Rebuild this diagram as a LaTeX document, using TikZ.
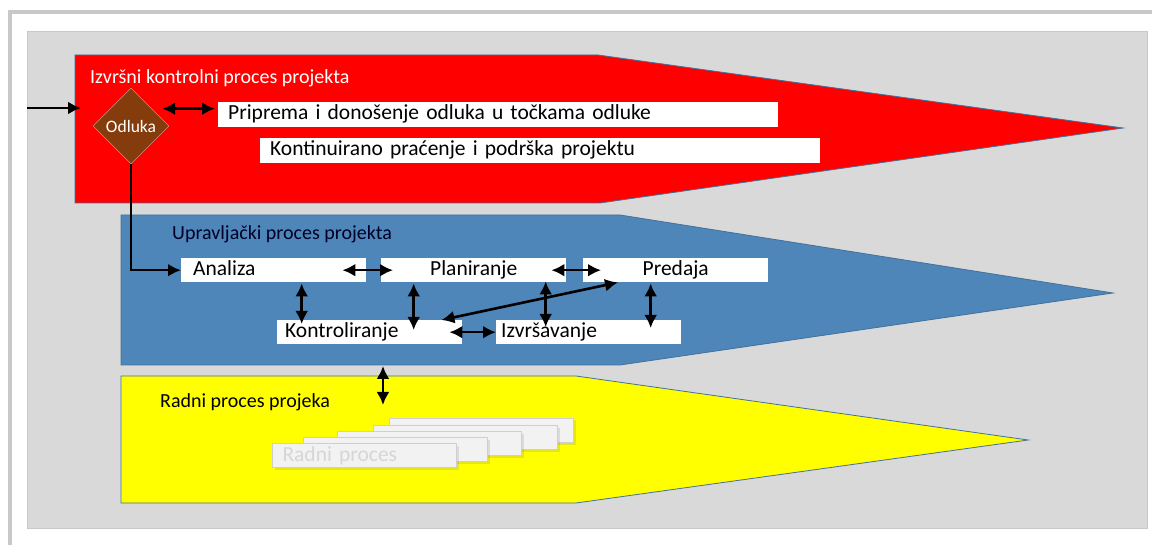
\documentclass[tikz,border=0pt]{standalone}
\usepackage{fontspec}
\setmainfont{Carlito}
\usepackage{xcolor}
\usepackage{tkz-euclide}
\usetikzlibrary{arrows,arrows.meta,calc,shapes.geometric,shadows,positioning}

\definecolor{panelgray}{HTML}{D9D9D9}
\definecolor{framegray}{HTML}{C8C8C8}
\definecolor{bandred}{HTML}{FF0000}
\definecolor{bandblue}{HTML}{4F86B9}
\definecolor{bandyellow}{HTML}{FFFF00}
\definecolor{bandedge}{HTML}{41719C}
\definecolor{odlukabrown}{HTML}{843C0C}
\definecolor{radnigray}{HTML}{F2F2F2}
\definecolor{radniedge}{HTML}{CFCFCF}
\definecolor{radnitext}{HTML}{D6D6D6}

\tikzset{
  band/.style={draw=bandedge, line width=0.8pt},
  whitebox/.style={fill=white, inner xsep=10pt, inner ysep=0pt, minimum height=24pt, text height=15pt, text depth=5pt, anchor=north west, font=\fontsize{21.5}{24}\selectfont},
  stepbox/.style={whitebox, minimum width=185pt},
  radnibox/.style={fill=radnigray, draw=radniedge, line width=1pt, minimum width=184pt, minimum height=24pt, inner sep=0pt, anchor=north west, drop shadow={shadow xshift=2pt, shadow yshift=-2pt, opacity=0.2}},
  naslov/.style={anchor=west, inner sep=0pt, font=\fontsize{20}{22}\selectfont},
  dvostruka/.style={{Latex[length=13pt,width=13pt]}-{Latex[length=13pt,width=13pt]}, line width=2.6pt},
  jednostruka/.style={-{Latex[length=13pt,width=13pt]}, line width=2.6pt}
}

\begin{document}
\begin{tikzpicture}[x=1pt, y=-1pt]
    \useasboundingbox (0,0) rectangle (1152,545);
    \draw[framegray, line width=4pt] (10,545) -- (10,12) -- (1152,12);
    \draw[fill=panelgray, draw=framegray] (27,31) rectangle (1147,528);
    \tkzDefPoint(75,55){r_1}
    \tkzDefPoint(598,55){r_2}
    \tkzDefPoint(1123,128){r_3}
    \tkzDefPoint(600,203){r_4}
    \tkzDefPoint(75,203){r_5}
    \tkzDefPoint(121,215){b_1}
    \tkzDefPoint(620,215){b_2}
    \tkzDefPoint(1113,293){b_3}
    \tkzDefPoint(620,365){b_4}
    \tkzDefPoint(121,365){b_5}
    \tkzDefPoint(121,376){y_1}
    \tkzDefPoint(576,376){y_2}
    \tkzDefPoint(1028,440){y_3}
    \tkzDefPoint(576,503){y_4}
    \tkzDefPoint(121,503){y_5}
    \draw[band, fill=bandred] (r_1) -- (r_2) -- (r_3) -- (r_4) -- (r_5) -- cycle;
    \draw[band, fill=bandblue] (b_1) -- (b_2) -- (b_3) -- (b_4) -- (b_5) -- cycle;
    \draw[band, fill=bandyellow] (y_1) -- (y_2) -- (y_3) -- (y_4) -- (y_5) -- cycle;

    \node[naslov, text=white] (naslovIzvrsni) at (90,78) {Izvršni kontrolni proces projekta};
    \node[naslov, text=black!85!blue] (naslovUpravljacki) at (172,234) {Upravljački proces projekta};
    \node[naslov] (naslovRadni) at (160,402) {Radni proces projeka};

    \node[diamond, fill=odlukabrown, draw=odlukabrown!40!white, minimum width=76pt, minimum height=76pt, inner sep=0pt, text=white, font=\fontsize{17.5}{19}\selectfont] (odluka) at (131,126) {Odluka};
    \node[whitebox, minimum height=25pt, text width=540pt, align=left] (pripr) at (218,102) {Priprema i donošenje odluka u točkama odluke};
    \node[whitebox, minimum height=25pt, text width=540pt, align=left] (kont) at (260,138) {Kontinuirano praćenje i podrška projektu};

    \node[stepbox, inner xsep=12pt, text width=161pt, align=left] (analiza) at (181,258) {Analiza};
    \node[stepbox, text width=165pt, align=center] (planiranje) at (381,258) {Planiranje};
    \node[stepbox, text width=165pt, align=center] (predaja) at (583,258) {Predaja};
    \node[stepbox, inner xsep=8pt, text width=169pt, align=left] (kontrol) at (277,320) {Kontroliranje};
    \node[stepbox, inner xsep=5pt, text width=175pt, align=left] (izvrs) at (496,320) {Izvršavanje};

    \node[radnibox] (radni5) at (389,418) {};
    \node[radnibox] (radni4) at (373,425) {};
    \node[radnibox] (radni3) at (337,431) {};
    \node[radnibox] (radni2) at (303,437) {};
    \node[radnibox, inner xsep=10pt, text width=164pt, align=left, text=radnitext, font=\fontsize{21.5}{24}\selectfont] (radni1) at (272,443) {Radni proces};

    \coordinate (ulaz) at (27,108);
    \coordinate (ulazKraj) at (81,108);
    \coordinate (plavaDno) at (383,366);
    \coordinate (zutaVrh) at (383,405);
    \draw[jednostruka] (ulaz) -- (ulazKraj);
    \draw[dvostruka] ([xshift=-7pt,yshift=6pt]odluka.east |- pripr.west) -- ([xshift=-3pt,yshift=6pt]pripr.west);
    \draw[jednostruka] (odluka.south) |- (analiza.west);
    \draw[dvostruka] ([xshift=-24pt]analiza.east) -- ([xshift=12pt]planiranje.west);
    \draw[dvostruka] ([xshift=-15pt]planiranje.east) -- ([xshift=18pt]predaja.west);
    \draw[dvostruka] ([xshift=28pt,yshift=-1pt]analiza.south) -- ([xshift=28pt,yshift=-4pt]analiza.south |- kontrol.north);
    \draw[dvostruka] ([xshift=-60pt,yshift=-1pt]planiranje.south) -- ([xshift=-60pt,yshift=-10pt]planiranje.south |- kontrol.north);
    \draw[dvostruka] ([xshift=72pt,yshift=1pt]planiranje.south) -- ([xshift=72pt,yshift=-7pt]planiranje.south |- izvrs.north);
    \draw[dvostruka] ([xshift=-25pt,yshift=-1pt]predaja.south) -- ([xshift=-25pt,yshift=-8pt]predaja.south |- izvrs.north);
    \draw[dvostruka] ([xshift=-21pt]kontrol.north east) -- ([xshift=35pt]predaja.south west);
    \draw[dvostruka] ([xshift=-13pt]kontrol.east) -- (izvrs.west);
    \draw[dvostruka] (plavaDno) -- (zutaVrh);
\end{tikzpicture}
\end{document}
